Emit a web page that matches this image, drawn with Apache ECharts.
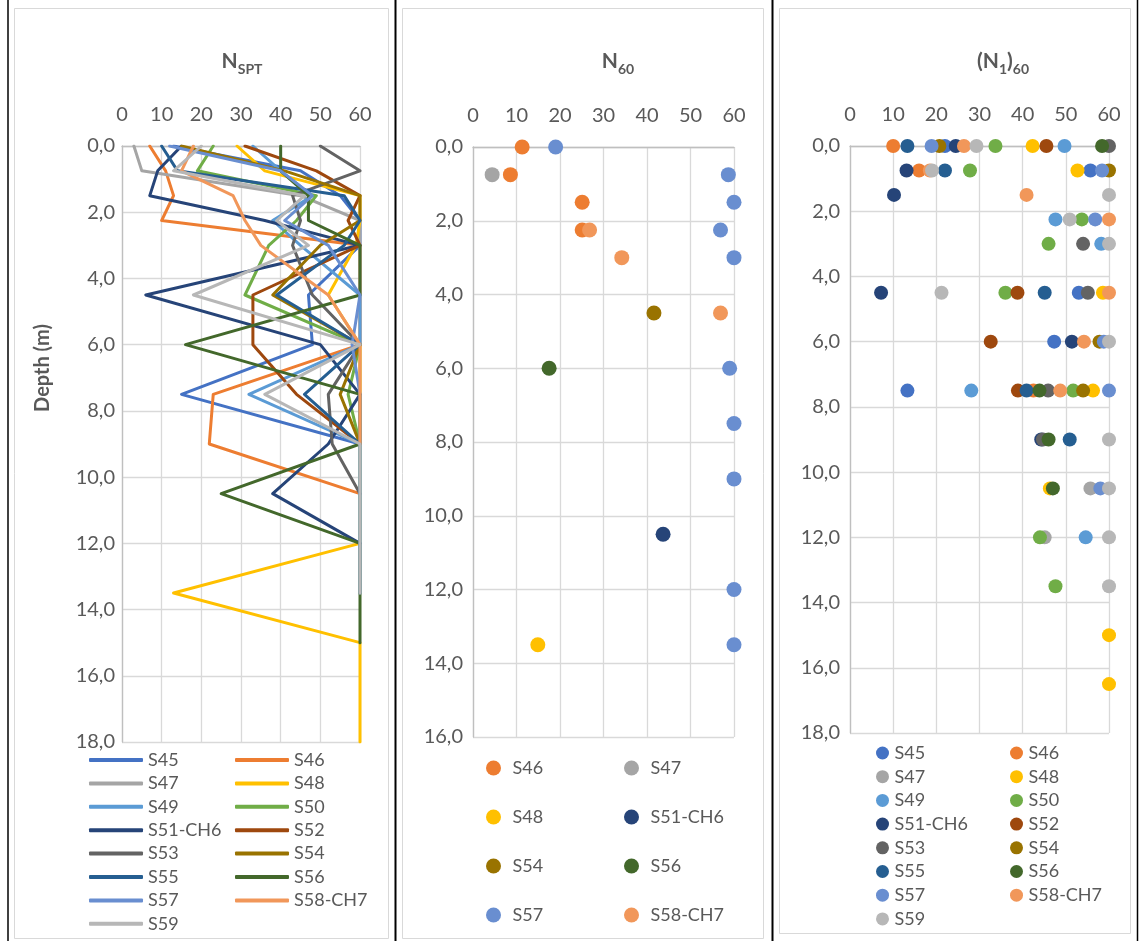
<!DOCTYPE html>
<html><head><meta charset="utf-8">
<script src="https://cdn.jsdelivr.net/npm/echarts@6/dist/echarts.min.js"></script>
<style>html,body{margin:0;padding:0;background:#fff}#c{width:1139px;height:941px}</style>
</head><body><div id="c"></div><script>
// Depth rows (m)
const depths = [0, 0.75, 1.5, 2.25, 3, 4.5, 6, 7.5, 9, 10.5, 12, 13.5, 15, 16.5, 18];
const names = ['S45','S46','S47','S48','S49','S50','S51-CH6','S52','S53','S54','S55','S56','S57','S58-CH7','S59'];
const palette = ['#4472C4','#ED7D31','#A5A5A5','#FFC000','#5B9BD5','#70AD47','#264478','#9E480E','#636363','#997300','#255E91','#43682B','#698ED0','#F1975A','#B7B7B7'];
const xTicks = [0, 10, 20, 30, 40, 50, 60];

// Panel 1: N_SPT (values aligned with depths; null = no reading)
const nspt_S45 = [13, 45, 55, 60, 60, 47, 48, 15, 60];
const nspt_S46 = [7, 11, 13, 10, 60, 60, 60, 23, 22, 60];
const nspt_S47 = [3, 5, 45, 60, 60, 60, 60, 60, 60, 60, 60, 60];
const nspt_S48 = [29, 36, 60, 60, 59, 52, 60, 60, 60, 60, 60, 13, 60, 60, 60];
const nspt_S49 = [33, 40, 48, 38, 45, 60, 60, 32, 60, 60, 60];
const nspt_S50 = [23, 19, 49, 44, 37, 31, 60, 57, 60, 60, 60, 60];
const nspt_S51 = [15, 9, 7, 36, 60, 6, 50, 60, 52, 38, 60];
const nspt_S52 = [31, 49, 60, 57, 60, 33, 33, 44, 60];
const nspt_S53 = [50, 60, 43, 45, 43, 48, 60, 52, 53, 60];
const nspt_S54 = [15, 41, 60, 60, 50, 38, 60, 55, 60];
const nspt_S55 = [10, 14, 56, 60, 56, 39, 60, 46, 60];
const nspt_S56 = [40, 40, 47, 47, 60, 60, 16, 60, 60, 25, 60, 60, 60];
const nspt_S57 = [12, 40, 48, 41, 52, 60, 58, 60, 60, 60, 60, 60];
const nspt_S58 = [18, 15, 28, 31, 35, 52, 60, 60, 60];
const nspt_S59 = [20, 13, 46, 39, 47, 18, 60, 36, 60, 60, 60, 60];

// Panel 2: N60
const n60_S46 = [11.3, 8.6, 25.1, 25.1];
const n60_S47 = [null, 4.4];
const n60_S48 = [null, null, null, null, null, null, null, null, null, null, null, 14.9];
const n60_S51 = [null, null, null, null, null, null, null, null, null, 43.7];
const n60_S54 = [null, null, null, null, null, 41.6];
const n60_S56 = [null, null, null, null, null, null, 17.5];
const n60_S57 = [19, 58.7, 60, 56.9, 60, null, 59, 60, 60, null, 60, 60];
const n60_S58 = [null, null, null, 26.8, 34.2, 56.9];

// Panel 3: (N1)60
const n160_S45 = [22, 55.7, null, null, null, 53, 47.3, 13.3];
const n160_S46 = [10, 16, null, null, null, null, null, 42.5];
const n160_S47 = [null, null, null, null, null, null, null, null, null, 55.7, 45.1];
const n160_S48 = [42.3, 52.7, null, null, null, 58.6, null, 56.3, null, 46.3, null, null, 60, 60];
const n160_S49 = [49.7, null, null, 47.6, 58.2, null, null, 28.1, null, null, 54.6];
const n160_S50 = [33.7, 27.8, null, 53.7, 46, 36, null, 51.7, null, null, 44, 47.6];
const n160_S51 = [24.5, 13.1, 10.2, null, null, 7.2, 51.4, null, 44.3];
const n160_S52 = [45.5, null, null, null, null, 38.8, 32.6, 38.9];
const n160_S53 = [60, null, null, null, 54, 55.1, null, 45.9, 44.7];
const n160_S54 = [20.7, 60, null, null, null, null, 57.8, 54];
const n160_S55 = [13.3, 22, null, null, null, 45.1, null, 40.9, 50.9];
const n160_S56 = [58.4, null, null, null, null, null, null, 43.9, 46, 47];
const n160_S57 = [18.9, 58.4, null, 56.8, null, null, 58.8, 60, null, 58];
const n160_S58 = [26.4, 18.5, 40.9, 60, null, 60, 54.2, 48.7];
const n160_S59 = [29.3, 19, 60, 50.9, 60, 21.2, 60, null, 60, 60, 60, 60];

const nspt = [nspt_S45, nspt_S46, nspt_S47, nspt_S48, nspt_S49, nspt_S50, nspt_S51, nspt_S52, nspt_S53, nspt_S54, nspt_S55, nspt_S56, nspt_S57, nspt_S58, nspt_S59];
const n60 = {'S46': n60_S46, 'S47': n60_S47, 'S48': n60_S48, 'S51-CH6': n60_S51, 'S54': n60_S54, 'S56': n60_S56, 'S57': n60_S57, 'S58-CH7': n60_S58};
const n160 = [n160_S45, n160_S46, n160_S47, n160_S48, n160_S49, n160_S50, n160_S51, n160_S52, n160_S53, n160_S54, n160_S55, n160_S56, n160_S57, n160_S58, n160_S59];

const TXT = '#595959';
const FONT = 'Lato';

function pairs(vals) {
  const out = [];
  vals.forEach((v, i) => { if (v !== null && v !== undefined) out.push([v, depths[i]]); });
  return out;
}
function fmtDepth(v) { return v.toFixed(1).replace('.', ','); }

const grids = [
  {left: 122, top: 146, width: 238, height: 596},
  {left: 473, top: 147, width: 261, height: 590},
  {left: 850, top: 146, width: 259, height: 587}
];
const yMax = [18, 16, 18];
const yMargin = [7, 10, 10];

const xAxis = grids.map((g, i) => ({
  type: 'value', gridIndex: i, position: 'top', min: xTicks[0], max: xTicks[xTicks.length - 1], interval: 10,
  axisLine: {show: true, lineStyle: {color: '#BFBFBF', width: 1.3}},
  axisTick: {show: false},
  axisLabel: {color: TXT, fontFamily: FONT, fontSize: 20, margin: 21},
  splitLine: {show: true, lineStyle: {color: '#D9D9D9', width: 1.3}}
}));
const yAxis = grids.map((g, i) => ({
  type: 'value', gridIndex: i, inverse: true, min: 0, max: yMax[i], interval: 2,
  axisLine: {show: true, lineStyle: {color: '#BFBFBF', width: 1.3}},
  axisTick: {show: false},
  axisLabel: {color: TXT, fontFamily: FONT, fontSize: 20, margin: yMargin[i], formatter: fmtDepth},
  splitLine: {show: true, lineStyle: {color: '#D9D9D9', width: 1.3}}
}));

const series = [];
names.forEach((n, i) => {
  series.push({
    name: n + '|1', type: 'line', xAxisIndex: 0, yAxisIndex: 0, data: pairs(nspt[i]),
    symbol: 'none', showSymbol: false, animation: false,
    itemStyle: {color: palette[i]},
    lineStyle: {color: palette[i], width: 3, join: 'round', cap: 'round'}
  });
});
names.forEach((n, i) => {
  if (!n60[n]) return;
  series.push({
    name: n + '|2', type: 'scatter', xAxisIndex: 1, yAxisIndex: 1, data: pairs(n60[n]),
    symbol: 'circle', symbolSize: 15, animation: false, itemStyle: {color: palette[i], opacity: 1}
  });
});
names.forEach((n, i) => {
  series.push({
    name: n + '|3', type: 'scatter', xAxisIndex: 2, yAxisIndex: 2, data: pairs(n160[i]),
    symbol: 'circle', symbolSize: 14, animation: false, itemStyle: {color: palette[i], opacity: 1}
  });
});

function leg(list, suffix, left, top, icon, w, h, lh, gap) {
  return {
    orient: 'vertical', left: left, top: top, icon: icon, itemWidth: w, itemHeight: h, itemGap: gap,
    selectedMode: false, padding: 0,
    data: list.map(n => n + suffix),
    formatter: nm => nm.split('|')[0],
    itemStyle: {borderWidth: 0},
    textStyle: {color: TXT, fontFamily: FONT, fontSize: 18, lineHeight: lh, padding: 0}
  };
}
const legend = [
  leg(['S45','S47','S49','S51-CH6','S53','S55','S57','S59'], '|1', 89, 750, 'roundRect', 54, 4, 20, 3.4),
  leg(['S46','S48','S50','S52','S54','S56','S58-CH7'], '|1', 235, 750, 'roundRect', 54, 4, 20, 3.4),
  leg(['S46','S48','S54','S57'], '|2', 486, 758, 'circle', 28, 15, 20, 29),
  leg(['S47','S51-CH6','S56','S58-CH7'], '|2', 624, 758, 'circle', 28, 15, 20, 29),
  leg(['S45','S47','S49','S51-CH6','S53','S55','S57','S59'], '|3', 876, 743, 'circle', 14, 13, 20, 3.7),
  leg(['S46','S48','S50','S52','S54','S56','S58-CH7'], '|3', 1010, 743, 'circle', 14, 13, 20, 3.7)
];

// Titles with subscripts: lay pieces out by measured width
const mctx = document.createElement('canvas').getContext('2d');
function titleParts(parts, cx, yMain, ySub) {
  const BIG = 'bold 21px ' + FONT, SUB = 'bold 14px ' + FONT;
  let total = 0;
  const widths = parts.map(p => { mctx.font = p[1] ? SUB : BIG; const w = mctx.measureText(p[0]).width; total += w; return w; });
  let x = cx - total / 2;
  return parts.map((p, k) => {
    const el = {type: 'text', x: x, y: p[1] ? ySub : yMain, silent: true,
      style: {text: p[0], fill: TXT, font: p[1] ? SUB : BIG, textAlign: 'left', textVerticalAlign: 'middle'}};
    x += widths[k];
    return el;
  });
}

const frame = (x, y, w, h) => ({type: 'rect', silent: true, shape: {x: x, y: y, width: w, height: h}, style: {fill: 'none', stroke: '#D9D9D9', lineWidth: 1}});
const vline = (x, w) => ({type: 'line', silent: true, shape: {x1: x, y1: 0, x2: x, y2: 941}, style: {stroke: '#000', lineWidth: w}});

const graphic = [
  frame(14.5, 8.5, 374, 930), frame(402.5, 8.5, 361, 930), frame(779.5, 8.5, 351, 925),
  vline(395.5, 2), vline(772.5, 2), vline(8, 1.5), vline(1137.5, 1.5)
].concat(
  titleParts([['N', 0], ['SPT', 1]], 242, 61, 69),
  titleParts([['N', 0], ['60', 1]], 618, 61, 69),
  titleParts([['(N', 0], ['1', 1], [')', 0], ['60', 1]], 1003, 61, 69),
  [{type: 'text', x: 43, y: 368, rotation: Math.PI / 2, silent: true,
    style: {text: 'Depth (m)', fill: TXT, font: 'bold 20px ' + FONT, textAlign: 'center', textVerticalAlign: 'middle'}}]
);

const chart = echarts.init(document.getElementById('c'), null, {renderer: 'canvas'});
chart.setOption({
  animation: false,
  backgroundColor: '#fff',
  textStyle: {fontFamily: FONT},
  grid: grids, xAxis: xAxis, yAxis: yAxis, series: series, legend: legend, graphic: graphic
});
</script></body></html>
